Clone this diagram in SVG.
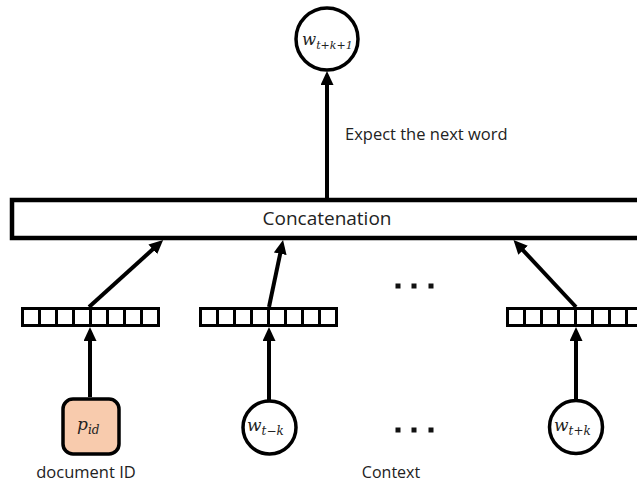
<svg xmlns="http://www.w3.org/2000/svg" width="637" height="482" viewBox="0 0 637 482">
<style>
.ln{stroke:#000;stroke-width:4;fill:none}
.node{fill:#fff;stroke:#000;stroke-width:3.5}
.lbl{font-family:"Open Sans","Noto Sans",sans-serif;fill:#222}
.math{font-family:"DejaVu Serif","Liberation Serif",serif;font-style:italic;fill:#222}
.cell{fill:#fff;stroke:#000;stroke-width:3}
.dot{fill:#111}
</style>
<defs>
<marker id="ah" markerUnits="userSpaceOnUse" markerWidth="16" markerHeight="14" refX="3" refY="6.5" orient="auto">
<path d="M0,0 L14,6.5 L0,13 z" fill="#000"/>
</marker>
<g id="bar">
<rect class="cell" x="0" y="0" width="17" height="17"/>
<rect class="cell" x="17" y="0" width="17" height="17"/>
<rect class="cell" x="34" y="0" width="17" height="17"/>
<rect class="cell" x="51" y="0" width="17" height="17"/>
<rect class="cell" x="68" y="0" width="17" height="17"/>
<rect class="cell" x="85" y="0" width="17" height="17"/>
<rect class="cell" x="102" y="0" width="17" height="17"/>
<rect class="cell" x="119" y="0" width="17" height="17"/>
</g>
</defs>
<rect width="637" height="482" fill="#fff"/>

<g id="connectors">
<line class="ln" x1="327" y1="198" x2="327" y2="82" marker-end="url(#ah)"/>
<line class="ln" x1="89" y1="307" x2="155" y2="247.3" marker-end="url(#ah)"/>
<line class="ln" x1="269" y1="307" x2="280.8" y2="250.8" marker-end="url(#ah)"/>
<line class="ln" x1="576" y1="307" x2="521" y2="248.1" marker-end="url(#ah)"/>
<line class="ln" x1="90" y1="397" x2="90" y2="338" marker-end="url(#ah)"/>
<line class="ln" x1="269" y1="401" x2="269" y2="338" marker-end="url(#ah)"/>
<line class="ln" x1="576" y1="400" x2="576" y2="338" marker-end="url(#ah)"/>
</g>

<g id="output-word">
<circle class="node" cx="327" cy="39" r="31"/>
<text class="math" x="302" y="45" font-size="16.5">w<tspan font-size="11" dy="4">t+k+1</tspan></text>
</g>
<text class="lbl" x="345" y="140" font-size="16.5">Expect the next word</text>

<g id="concatenation">
<rect x="12" y="200" width="640" height="38" fill="#fff" stroke="#000" stroke-width="4.5"/>
<text class="lbl" x="327" y="225" font-size="19" text-anchor="middle">Concatenation</text>
</g>

<g id="vec-doc"><use href="#bar" x="22.5" y="308.5"/></g>
<g id="vec-left"><use href="#bar" x="200.5" y="308.5"/></g>
<g id="vec-right"><use href="#bar" x="507.5" y="308.5"/></g>

<g id="dots-top">
<rect class="dot" x="395.5" y="283.5" width="5" height="5"/>
<rect class="dot" x="411.5" y="283.5" width="5" height="5"/>
<rect class="dot" x="428.5" y="283.5" width="5" height="5"/>
</g>
<g id="dots-bottom">
<rect class="dot" x="395.5" y="427.5" width="5" height="5"/>
<rect class="dot" x="411.5" y="427.5" width="5" height="5"/>
<rect class="dot" x="428.5" y="427.5" width="5" height="5"/>
</g>

<g id="paragraph-id">
<rect x="63" y="399" width="56" height="55" rx="10" fill="#F8CBAD" stroke="#000" stroke-width="3.5"/>
<text class="math" x="77" y="430" font-size="17">p<tspan font-size="12" dy="4">id</tspan></text>
</g>
<text class="lbl" x="86" y="478" font-size="16.5" text-anchor="middle">document ID</text>

<g id="word-t-minus-k">
<circle class="node" cx="269.5" cy="427.5" r="26.5"/>
<text class="math" x="247" y="431" font-size="17">w<tspan font-size="12" dy="4">t−k</tspan></text>
</g>

<g id="word-t-plus-k">
<circle class="node" cx="576" cy="427" r="26.5"/>
<text class="math" x="554" y="431" font-size="17">w<tspan font-size="12" dy="4">t+k</tspan></text>
</g>
<text class="lbl" x="391" y="478" font-size="16" text-anchor="middle">Context</text>
</svg>
